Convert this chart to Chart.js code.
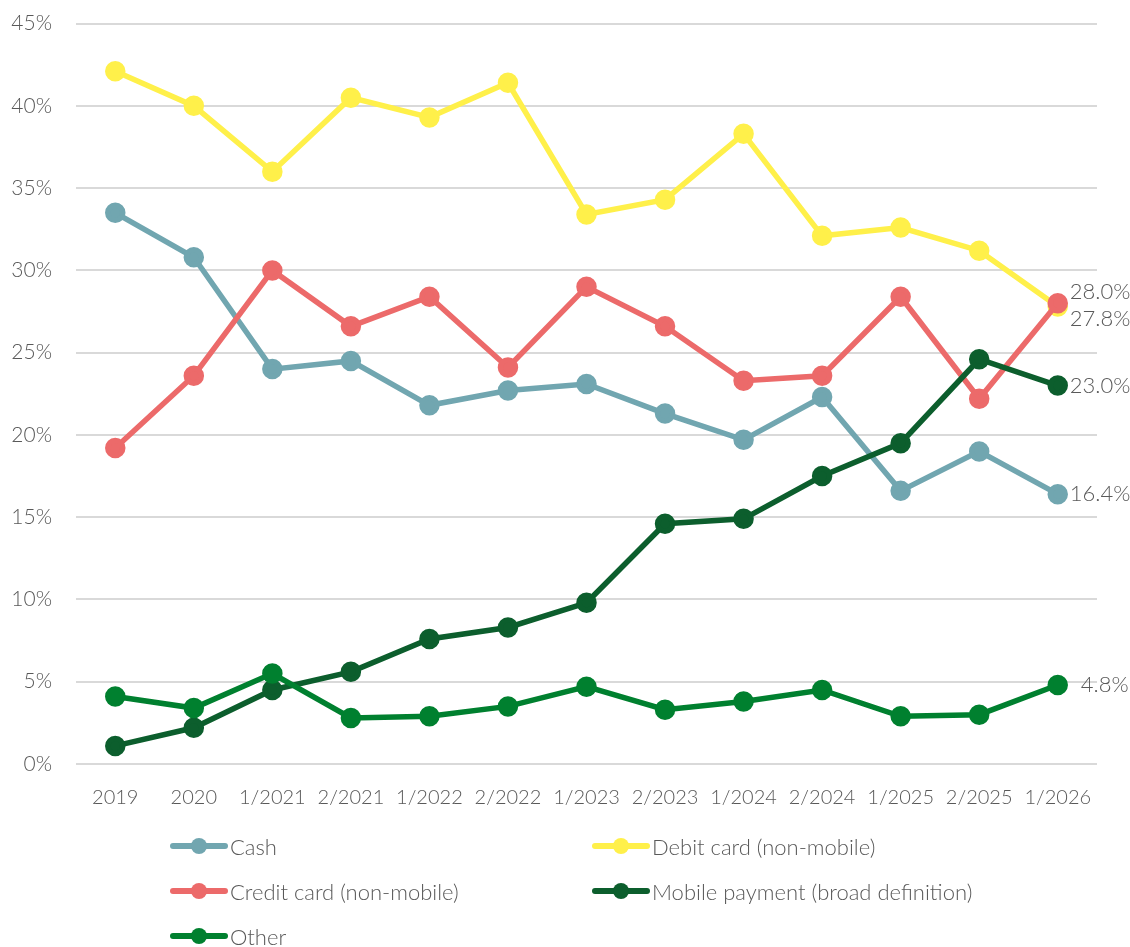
<!DOCTYPE html>
<html>
<head>
<meta charset="utf-8">
<script src="https://cdn.jsdelivr.net/npm/chart.js@4.4.1/dist/chart.umd.min.js"></script>
<style>
  body { margin: 0; background: #fff; font-family: Lato, sans-serif; font-weight: 300; overflow: hidden; }
  #wrap { width: 1130px; height: 851px; position: absolute; left: 0; top: -13px; }
  #legend { position: absolute; left: 0; top: 831px; width: 1130px; height: 116px; }
  .item { position: absolute; display: flex; align-items: center; height: 30px; font-size: 22px; color: #595959; }
  .mark { position: relative; width: 58px; height: 20px; margin-right: 2px; }
  .mark .ln { position: absolute; left: 0; right: 0; top: 7px; height: 6px; border-radius: 3px; }
  .mark .dt { position: absolute; left: 21px; top: 2px; width: 16px; height: 16px; border-radius: 8px; }
</style>
</head>
<body>
<div id="wrap"><canvas id="grafico"></canvas></div>
<div id="legend"></div>
<script>
const periodos = ['2019', '2020', '1/2021', '2/2021', '1/2022', '2/2022', '1/2023', '2/2023', '1/2024', '2/2024', '1/2025', '2/2025', '1/2026'];
const dinheiro = [33.5, 30.8, 24.0, 24.5, 21.8, 22.7, 23.1, 21.3, 19.7, 22.3, 16.6, 19.0, 16.4];
const debito = [42.1, 40.0, 36.0, 40.5, 39.3, 41.4, 33.4, 34.3, 38.3, 32.1, 32.6, 31.2, 27.8];
const credito = [19.2, 23.6, 30.0, 26.6, 28.4, 24.1, 29.0, 26.6, 23.3, 23.6, 28.4, 22.2, 28.0];
const movel = [1.1, 2.2, 4.5, 5.6, 7.6, 8.3, 9.8, 14.6, 14.9, 17.5, 19.5, 24.6, 23.0];
const outros = [4.1, 3.4, 5.5, 2.8, 2.9, 3.5, 4.7, 3.3, 3.8, 4.5, 2.9, 3.0, 4.8];
const yTicks = [0, 5, 10, 15, 20, 25, 30, 35, 40, 45];

const series = [
  { label: 'Cash', data: dinheiro, color: '#71a6b0', dx: 0, dy: 0 },
  { label: 'Debit card (non-mobile)', data: debito, color: '#fff04a', dx: 0, dy: 12 },
  { label: 'Credit card (non-mobile)', data: credito, color: '#ec6a6a', dx: 0, dy: -11 },
  { label: 'Mobile payment (broad definition)', data: movel, color: '#0c5e2d', dx: 0, dy: 0 },
  { label: 'Other', data: outros, color: '#00802f', dx: 11, dy: 0 }
];

// rótulos no último ponto de cada série
const rotulosFinais = {
  id: 'rotulosFinais',
  afterDatasetsDraw(chart) {
    const ctx = chart.ctx;
    ctx.save();
    ctx.font = '300 22px Lato';
    ctx.fillStyle = '#595959';
    ctx.textBaseline = 'middle';
    chart.data.datasets.forEach((ds, i) => {
      const meta = chart.getDatasetMeta(i);
      const pt = meta.data[meta.data.length - 1];
      const v = ds.data[ds.data.length - 1];
      ctx.fillText(v.toFixed(1) + '%', pt.x + 12 + series[i].dx, pt.y + series[i].dy);
    });
    ctx.restore();
  }
};

const ctx = document.getElementById('grafico').getContext('2d');
new Chart(ctx, {
  type: 'line',
  data: {
    labels: periodos,
    datasets: series.map((s, i) => ({
      label: s.label,
      data: s.data,
      order: series.length - i,
      borderColor: s.color,
      backgroundColor: s.color,
      pointBackgroundColor: s.color,
      pointBorderColor: s.color,
      borderWidth: 5.5,
      pointRadius: 7.5,
      tension: 0
    }))
  },
  options: {
    responsive: true,
    maintainAspectRatio: false,
    animation: false,
    layout: { padding: { top: 0, right: 33, bottom: 6, left: 0 } },
    plugins: { legend: { display: false }, tooltip: { enabled: false } },
    scales: {
      x: {
        offset: true,
        grid: { display: false, drawTicks: false },
        border: { display: false },
        ticks: { padding: 22, color: '#595959', font: { family: 'Lato', size: 20, weight: 300 }, maxRotation: 0 }
      },
      y: {
        min: 0,
        max: 45,
        afterFit: s => { s.width = 76; },
        afterBuildTicks: s => { s.ticks = yTicks.map(v => ({ value: v })); },
        grid: { color: '#d9d9d9', lineWidth: 2, drawTicks: false },
        border: { display: false },
        ticks: {
          padding: 24,
          color: '#595959',
          font: { family: 'Lato', size: 21, weight: 300 },
          callback: v => v + '%'
        }
      }
    }
  },
  plugins: [rotulosFinais]
});

// legenda em duas colunas
const legenda = document.getElementById('legend');
const posicoes = [[170, 0], [592, 0], [170, 45], [592, 45], [170, 90]];
series.forEach((s, i) => {
  const el = document.createElement('div');
  el.className = 'item';
  el.style.left = posicoes[i][0] + 'px';
  el.style.top = posicoes[i][1] + 'px';
  el.innerHTML = '<span class="mark"><span class="ln" style="background:' + s.color + '"></span><span class="dt" style="background:' + s.color + '"></span></span>' + s.label;
  legenda.appendChild(el);
});
</script>
</body>
</html>
